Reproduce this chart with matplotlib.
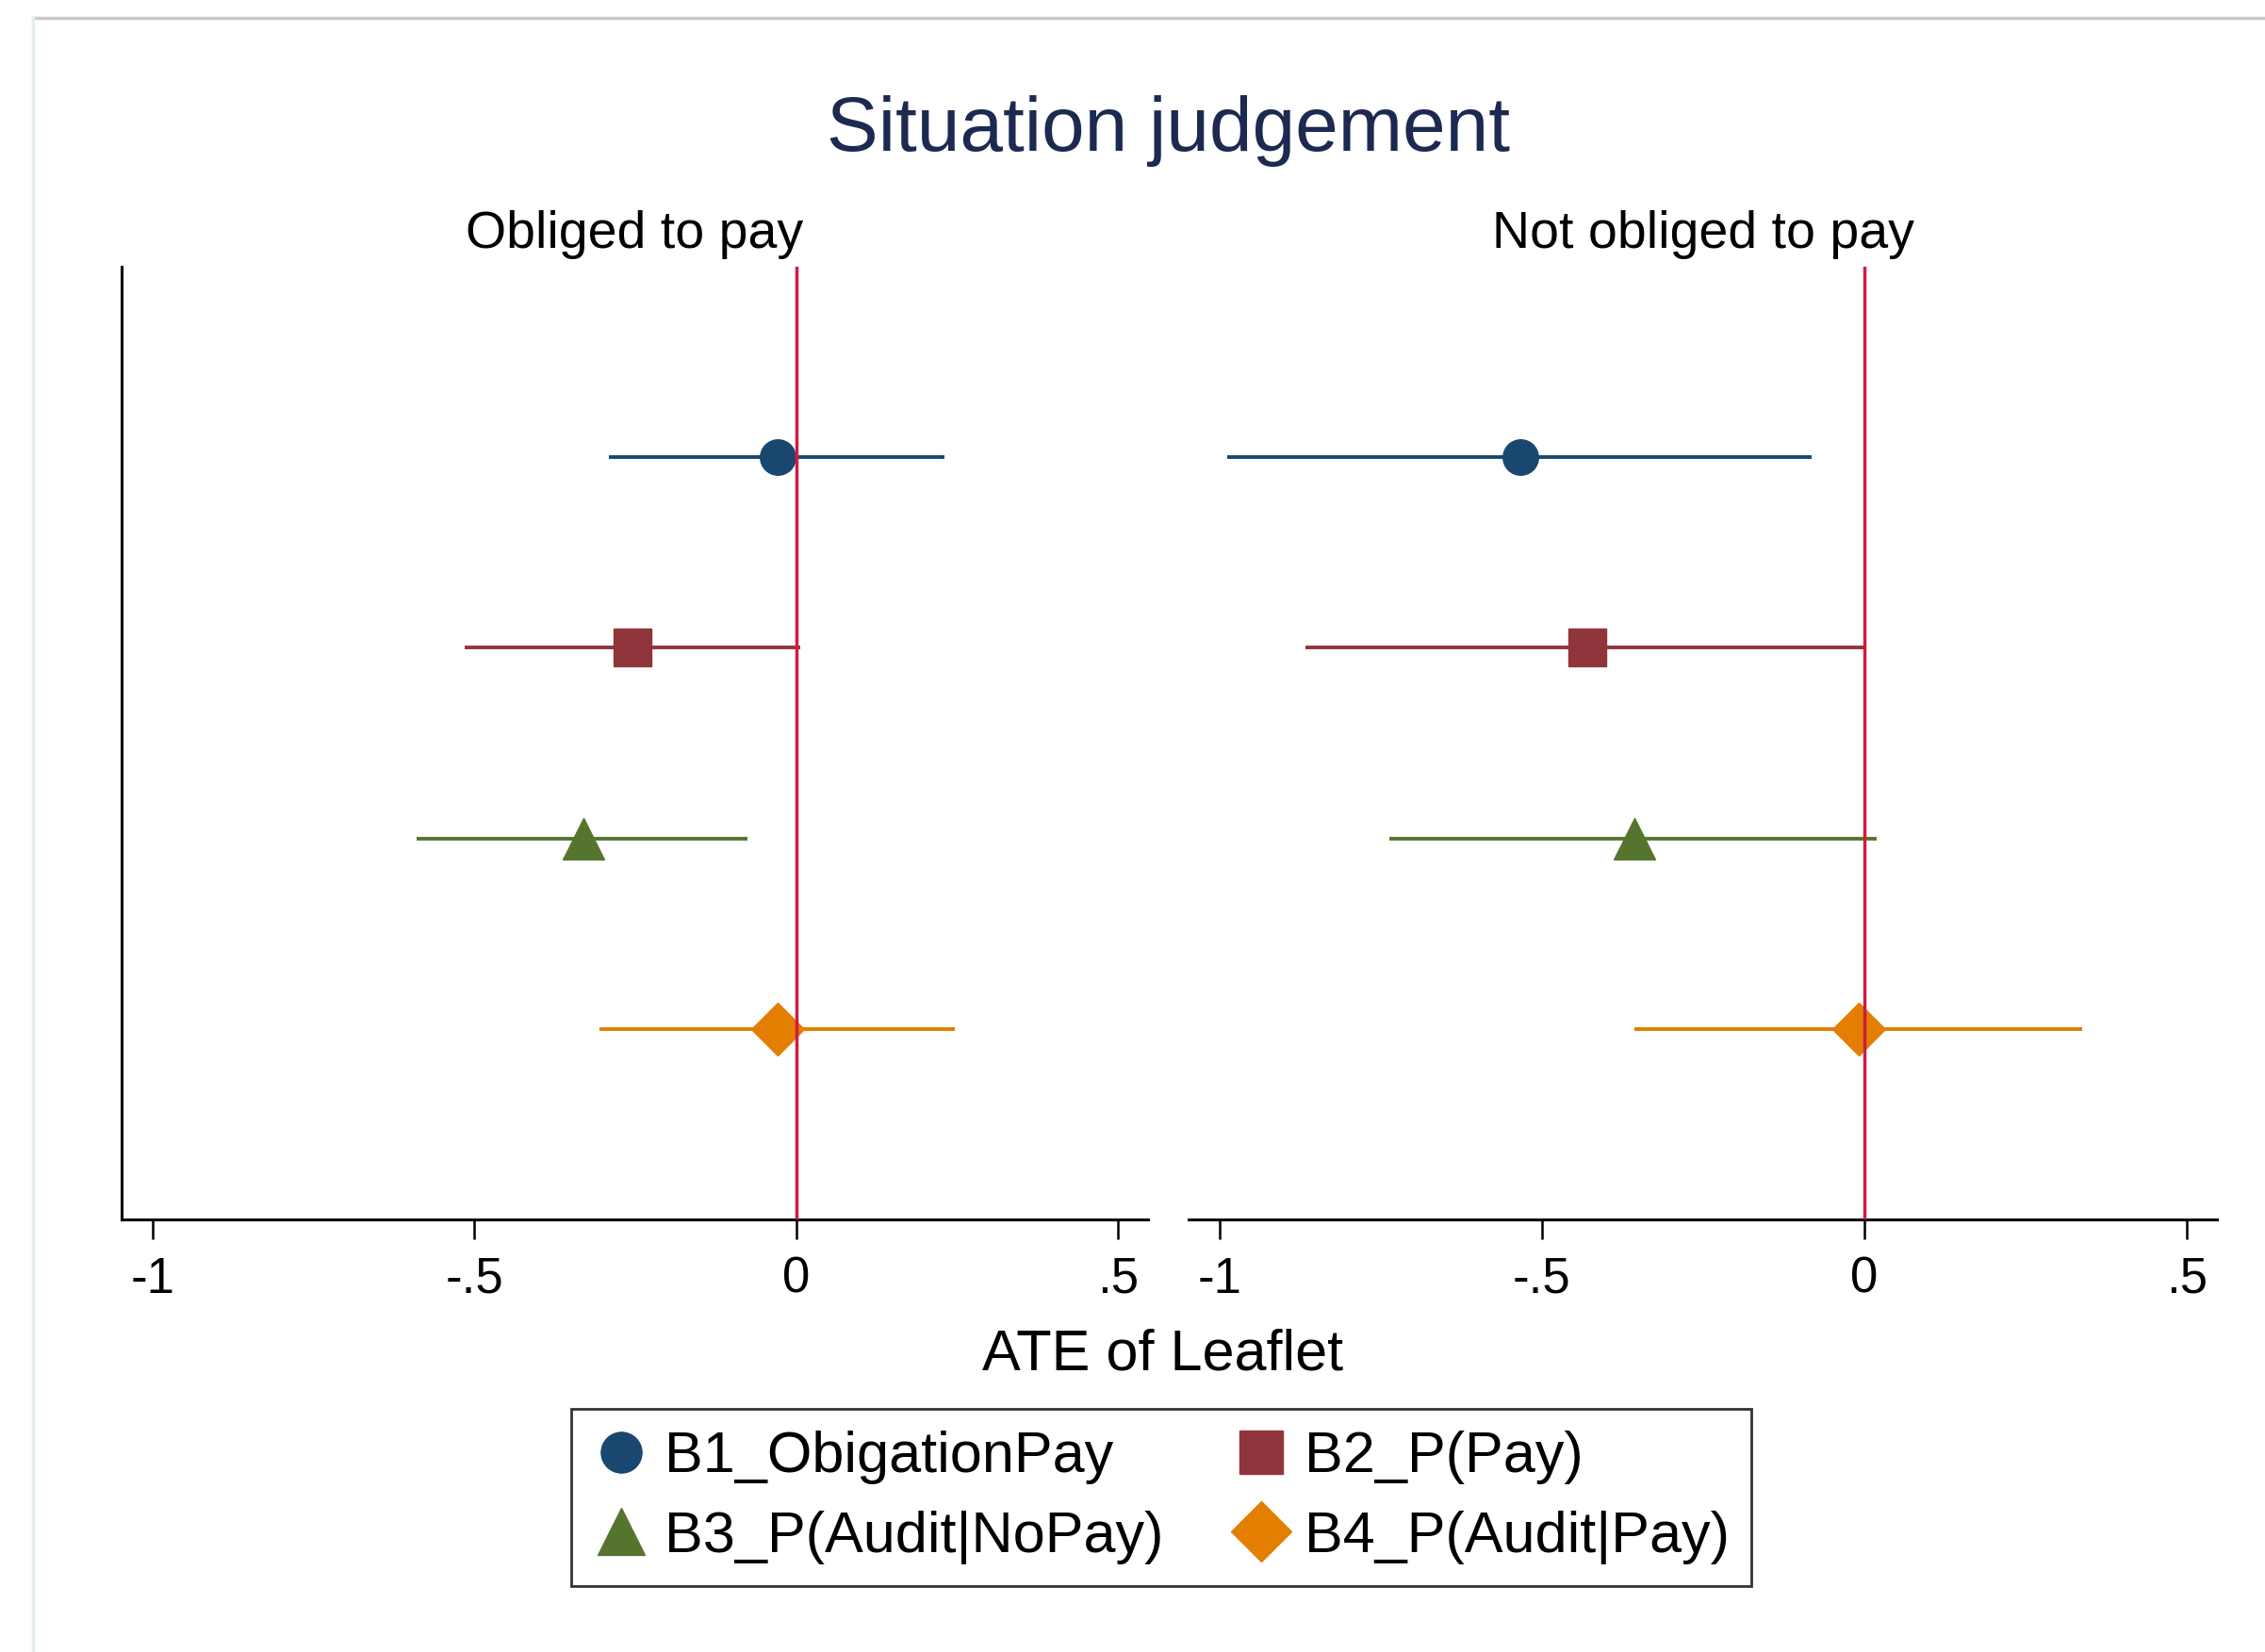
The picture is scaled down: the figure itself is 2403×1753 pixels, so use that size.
import matplotlib
matplotlib.use("Agg")
import matplotlib.pyplot as plt
from matplotlib.lines import Line2D

# values
labels = ["B1_ObigationPay", "B2_P(Pay)", "B3_P(Audit|NoPay)", "B4_P(Audit|Pay)"]
rows = [1, 2, 3, 4]
obliged_est = [-0.029, -0.254, -0.331, -0.028]
obliged_lo = [-0.291, -0.515, -0.590, -0.306]
obliged_hi = [0.230, 0.007, -0.075, 0.247]
notobliged_est = [-0.534, -0.429, -0.357, -0.008]
notobliged_lo = [-0.988, -0.867, -0.736, -0.357]
notobliged_hi = [-0.082, 0.000, 0.019, 0.338]
panel_titles = ["Obliged to pay", "Not obliged to pay"]
xtick_vals = [-1, -0.5, 0, 0.5]
xtick_labels = ["-1", "-.5", "0", ".5"]

colors = ["#1a476f", "#90353b", "#55752f", "#e37e00"]
markers = ["o", "s", "^", "D"]
msizes = [27, 29, 31, 28.5]

plt.rcParams['font.family'] = ['Liberation Sans', 'DejaVu Sans']

fig = plt.figure(figsize=(24.03, 17.53), dpi=100)
fig.patch.set_facecolor("white")

ax_left = fig.add_axes([0.0537, 0.2618, 0.4532, 0.5768])
ax_right = fig.add_axes([0.5248, 0.2618, 0.4540, 0.5768])

panels = [
    (ax_left, obliged_est, obliged_lo, obliged_hi),
    (ax_right, notobliged_est, notobliged_lo, notobliged_hi),
]

for k, (ax, est, lo, hi) in enumerate(panels):
    for i in range(len(labels)):
        ax.hlines(rows[i], lo[i], hi[i], color=colors[i], lw=2.8, zorder=2)
        ax.plot(est[i], rows[i], marker=markers[i], ms=msizes[i], color=colors[i],
                mec=colors[i], ls="none", zorder=3)
    ax.axvline(0, color="#d01c3c", lw=2.5, zorder=5)
    ax.set_xlim(-1.048, 0.547)
    ax.set_ylim(5, 0)
    ax.set_xticks(xtick_vals)
    ax.set_xticklabels(xtick_labels)
    ax.tick_params(axis="x", length=15, width=1.8, pad=13, labelsize=38, color="black")
    ax.set_yticks([])
    ax.spines["top"].set_visible(False)
    ax.spines["right"].set_visible(False)
    ax.spines["bottom"].set_linewidth(2.2)
    ax.spines["left"].set_linewidth(2.2)
    if k == 1:
        ax.spines["left"].set_visible(False)
    ax.set_title(panel_titles[k], fontsize=40, pad=14)
    ax.set_facecolor("white")

fig.text(0.516, 0.9087, "Situation judgement", fontsize=59, color="#1c2a52",
         ha="center", va="baseline")
fig.text(0.5135, 0.1711, "ATE of Leaflet", fontsize=44, ha="center", va="baseline")

# legend is filled row by row in the reference: B1 B2 / B3 B4
order = [0, 2, 1, 3]
handles = [Line2D([], [], marker=markers[i], ms=msizes[i], color=colors[i], ls="none")
           for i in order]
leg = fig.legend(handles, [labels[i] for i in order], ncol=2, loc="center",
                 bbox_to_anchor=(0.5127, 0.0935),
                 fontsize=44, frameon=True, fancybox=False, edgecolor="black",
                 markerscale=1.15, handlelength=1.0, handletextpad=0.25,
                 columnspacing=1.2, borderpad=0.38, labelspacing=0.45)
leg.get_frame().set_linewidth(2.0)

# light frame from the screenshot border
fig.add_artist(Line2D([0.0146, 1.0], [0.9892, 0.9892], color="#c8cacc", lw=2.5))
fig.add_artist(Line2D([0.0146, 0.0146], [0.0, 0.9892], color="#e4eef2", lw=2.5))

fig.savefig("out.png", dpi=100, facecolor="white")
